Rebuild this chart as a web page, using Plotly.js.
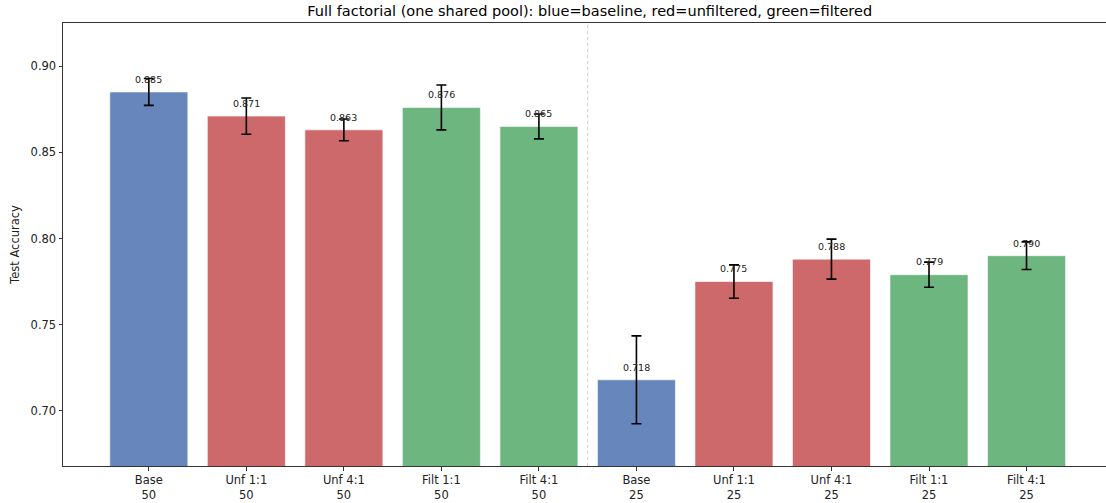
<!DOCTYPE html>
<html>
<head>
<meta charset="utf-8">
<script src="https://cdn.plot.ly/plotly-3.0.1.min.js"></script>
<style>html,body{margin:0;padding:0;background:#fff;}#chart{width:1106px;height:503px;}</style>
</head>
<body>
<div id="chart"></div>
<script>
const categories = ["Base<br>50","Unf 1:1<br>50","Unf 4:1<br>50","Filt 1:1<br>50","Filt 4:1<br>50","Base<br>25","Unf 1:1<br>25","Unf 4:1<br>25","Filt 1:1<br>25","Filt 4:1<br>25"];
const groups = ["baseline","unfiltered","unfiltered","filtered","filtered","baseline","unfiltered","unfiltered","filtered","filtered"];
const means = [0.885,0.871,0.863,0.876,0.865,0.718,0.775,0.788,0.779,0.790];
const errors = [0.0078,0.0105,0.0063,0.0130,0.0072,0.0255,0.0097,0.0116,0.0073,0.0080];
const labels = ["0.885","0.871","0.863","0.876","0.865","0.718","0.775","0.788","0.779","0.790"];

const groupColors = {baseline:"rgb(103,135,188)", unfiltered:"rgb(205,104,107)", filtered:"rgb(110,182,127)"};
const font = "DejaVu Sans, sans-serif";

const trace = {
  type: "bar",
  x: categories,
  y: means,
  width: 0.8,
  marker: {color: groups.map(g => groupColors[g]), line: {color: "rgba(255,255,255,0.6)", width: 1}},
  error_y: {type: "data", array: errors, visible: true, color: "#000", thickness: 1.6, width: 5},
  hoverinfo: "x+y",
  showlegend: false
};

const annotations = categories.map((c, i) => ({
  x: c, y: means[i] + 0.003, xref: "x", yref: "y",
  text: labels[i], showarrow: false, yanchor: "bottom",
  font: {family: font, size: 9.5, color: "#222"}
}));

const layout = {
  width: 1106, height: 503,
  margin: {l: 63, r: 0, t: 23, b: 37, pad: 0},
  paper_bgcolor: "#fff", plot_bgcolor: "#fff",
  font: {family: font, size: 11.5, color: "#222"},
  title: {text: "Full factorial (one shared pool): blue=baseline, red=unfiltered, green=filtered",
          font: {family: font, size: 14.5, color: "#000"}, x: 0.505, xanchor: "center", xref: "paper", y: 0.979, yanchor: "middle"},
  bargap: 0.2,
  xaxis: {
    type: "category", range: [-0.88, 9.815], showgrid: false, zeroline: false,
    showline: true, linecolor: "#333", linewidth: 1, mirror: true,
    ticks: "outside", ticklen: 3.5, tickcolor: "#333",
    tickfont: {family: font, size: 11.5, color: "#222"}
  },
  yaxis: {
    range: [0.668, 0.925], showgrid: false, zeroline: false,
    showline: true, linecolor: "#333", linewidth: 1, mirror: false,
    ticks: "outside", ticklen: 3.5, tickcolor: "#333",
    tickvals: [0.70,0.75,0.80,0.85,0.90], ticktext: ["0.70","0.75","0.80","0.85","0.90"],
    tickfont: {family: font, size: 11.5, color: "#222"},
    title: {text: "Test Accuracy", font: {family: font, size: 11.5, color: "#222"}, standoff: 8}
  },
  shapes: [{type: "line", xref: "x", yref: "paper", x0: 4.5, x1: 4.5, y0: 0, y1: 1,
            line: {color: "rgba(170,170,170,0.6)", width: 1, dash: "dot"}, layer: "below"}],
  annotations: annotations
};

Plotly.newPlot("chart", [trace], layout, {displayModeBar: false, staticPlot: true});
</script>
</body>
</html>
